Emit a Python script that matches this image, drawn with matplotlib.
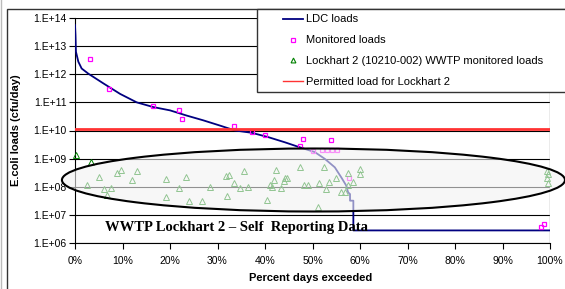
import numpy as np
import matplotlib
matplotlib.use("Agg")
import matplotlib.pyplot as plt
from matplotlib.patches import Ellipse, Rectangle
from matplotlib.lines import Line2D
from matplotlib.ticker import FixedLocator, FuncFormatter

plt.rcParams['font.family'] = ['Liberation Sans', 'DejaVu Sans']

# LDC curve (percent days exceeded, load cfu/day)
ldc_pct = [0, 0.1, 0.2, 0.7, 1.4, 2.8, 6.0, 9.5, 13.0, 16.5, 20.0, 23.5, 27.0,
           30.5, 33.7, 37.2, 40.7, 44.2, 47.4, 50.5, 52.6, 54.7, 56.1, 57.1,
           57.5, 57.9, 57.9, 58.6, 58.6, 100]
ldc_load = [5.6e13, 2.5e13, 6.3e12, 2.8e12, 1.6e12, 1.05e12, 4.7e11, 2.0e11,
            1.0e11, 6.8e10, 5.2e10, 3.4e10, 2.3e10, 1.5e10, 1.0e10, 8.3e9,
            5.8e9, 3.8e9, 2.5e9, 1.7e9, 9.8e8, 4.9e8, 2.1e8, 1.1e8, 6.3e7,
            5.5e7, 3.2e7, 3.2e7, 2.8e6, 2.8e6]

# monitored loads
mon_pct = [3.2, 7.2, 16.4, 21.8, 22.6, 33.5, 37.2, 40.1, 47.4, 48.1, 53.8,
           50.2, 52.1, 53.0, 54.0, 55.1, 57.7, 98.2, 98.7]
mon_load = [3.6e12, 2.9e11, 7.6e10, 5.2e10, 2.6e10, 1.4e10, 8.7e9, 7.1e9,
            2.7e9, 5.0e9, 4.7e9, 1.8e9, 2.0e9, 2.1e9, 2.0e9, 2.0e9, 2.0e8,
            3.8e6, 4.9e6]

# Lockhart 2 WWTP self reported loads
wwtp_pct = [0.2, 3.4, 2.6, 5.1, 6.0, 6.7, 7.5, 8.8, 9.7, 12.1, 13.1, 19.2,
            19.2, 21.9, 23.4, 24.1, 26.8, 28.5, 31.7, 32.5, 32.1, 33.5, 34.7,
            35.6, 36.5, 40.4, 41.0, 41.4, 41.9, 42.3, 43.4, 43.9, 44.2, 44.6,
            47.4, 48.2, 49.1, 51.1, 51.4, 52.5, 52.8, 53.5, 54.9, 56.0, 56.8,
            57.4, 57.4, 58.6, 59.9, 59.9, 99.3, 99.6, 99.3, 99.6]
wwtp_load = [1.35e9, 7.4e8, 1.15e8, 2.2e8, 8.3e7, 5.0e7, 8.9e7, 3.1e8, 4.1e8,
             1.8e8, 3.5e8, 1.9e8, 4.2e7, 8.7e7, 2.2e8, 3.1e7, 3.1e7, 9.6e7,
             2.4e8, 2.6e8, 4.7e7, 1.4e8, 8.9e7, 3.7e8, 1.0e8, 3.5e7, 1.15e8,
             9.6e7, 1.8e8, 3.8e8, 8.9e7, 1.6e8, 2.1e8, 2.1e8, 4.9e8, 1.2e8,
             1.2e8, 1.9e7, 1.35e8, 5.2e8, 8.3e7, 1.5e8, 2.0e8, 6.3e7, 6.3e7,
             3.2e8, 1.15e8, 1.5e8, 4.3e8, 2.9e8, 3.7e8, 2.8e8, 2.1e8, 1.4e8]

permit_load = 1.15e10

W, H = 565, 289
fig = plt.figure(figsize=(W / 100, H / 100), dpi=100)
ax = fig.add_axes([75 / W, 1 - 243 / H, 475 / W, 225 / H])

def fx(px):
    return px / W

def fy(py):
    return 1 - py / H

ax.set_yscale('log')
ax.set_ylim(1e6, 1e14)
ax.set_xlim(0, 100)
ax.yaxis.set_major_locator(FixedLocator([10.0 ** k for k in range(6, 15)]))
ax.yaxis.set_minor_locator(FixedLocator([]))
ax.yaxis.set_major_formatter(FuncFormatter(lambda v, p: "1.E+%02d" % round(np.log10(v))))
ax.set_xticks(range(0, 101, 10))
ax.xaxis.set_major_formatter(FuncFormatter(lambda v, p: "%d%%" % v))
ax.tick_params(axis='both', labelsize=7.5, direction='out', length=4, width=0.8, pad=2)
ax.tick_params(axis='x', pad=5)
ax.grid(axis='y', color='black', lw=0.8)
ax.set_axisbelow(True)
for s in ['top', 'right']:
    ax.spines[s].set_visible(False)
ax.spines['left'].set_linewidth(0.8)
ax.spines['bottom'].set_linewidth(0.8)
ax.axvline(100, color='#999999', lw=1, zorder=1)

ax.plot(ldc_pct, ldc_load, color='#000080', lw=1.3, zorder=3)
ax.plot(mon_pct, mon_load, ls='none', marker='s', ms=3.5, mfc='none',
        mec='#ff00ff', mew=0.9, zorder=4)
ax.plot(wwtp_pct, wwtp_load, ls='none', marker='^', ms=4, mfc='none',
        mec='#008000', mew=0.7, zorder=4, clip_on=False)
ax.axhline(permit_load, color='#ff3333', lw=2, zorder=6)

# translucent ellipse round the self reporting data
ax.add_patch(Ellipse((0.502, 0.28), 1.059, 0.28, transform=ax.transAxes,
                     facecolor='#f3f3f3', alpha=0.6, edgecolor='none', zorder=5,
                     clip_on=False))
ax.add_patch(Ellipse((0.502, 0.28), 1.059, 0.28, transform=ax.transAxes,
                     facecolor='none', edgecolor='black', lw=1.5, zorder=5,
                     clip_on=False))

ax.text(0.339, 0.067, "WWTP Lockhart 2 \u2013 Self  Reporting Data", transform=ax.transAxes,
        ha='center', va='center', fontsize=10.5, fontweight='bold',
        family=['Liberation Serif', 'DejaVu Serif'], zorder=7)

ax.set_ylabel("E.coli loads (cfu/day)", fontsize=8, fontweight='bold')
ax.set_xlabel("Percent days exceeded", fontsize=8, fontweight='bold')
ax.yaxis.set_label_coords((21 - 75) / 475, 0.5)
ax.xaxis.set_label_coords((311 - 75) / 475, (243 - 273) / 225)

# chart border and legend box
fig.add_artist(Line2D([fx(1), fx(1)], [0, 1], color='#bbbbbb', lw=1))
fig.add_artist(Rectangle((fx(6.5), fy(300)), fx(600), fy(9.3) - fy(300),
                         transform=fig.transFigure, fill=False, ec='#333333', lw=1))
fig.add_artist(Rectangle((fx(257), fy(92)), fx(330), fy(9.3) - fy(92),
                         transform=fig.transFigure, facecolor='white', ec='#333333', lw=1,
                         zorder=8))

handles = [Line2D([], [], color='#000080', lw=1.3),
           Line2D([], [], ls='none', marker='s', ms=3, mfc='none', mec='#ff00ff', mew=0.9),
           Line2D([], [], ls='none', marker='^', ms=3.5, mfc='none', mec='#008000', mew=0.8),
           Line2D([], [], color='#ff3333', lw=1)]
labels = ["LDC loads", "Monitored loads", "Lockhart 2 (10210-002) WWTP monitored loads",
          "Permitted load for Lockhart 2"]
leg = fig.legend(handles, labels, loc='upper left', bbox_to_anchor=(fx(283), fy(14.5)),
                 frameon=False, fontsize=8, handlelength=1.8, handletextpad=0.3,
                 labelspacing=0.98, borderaxespad=0, borderpad=0)
leg.set_zorder(9)

fig.savefig("out.png", dpi=100)
